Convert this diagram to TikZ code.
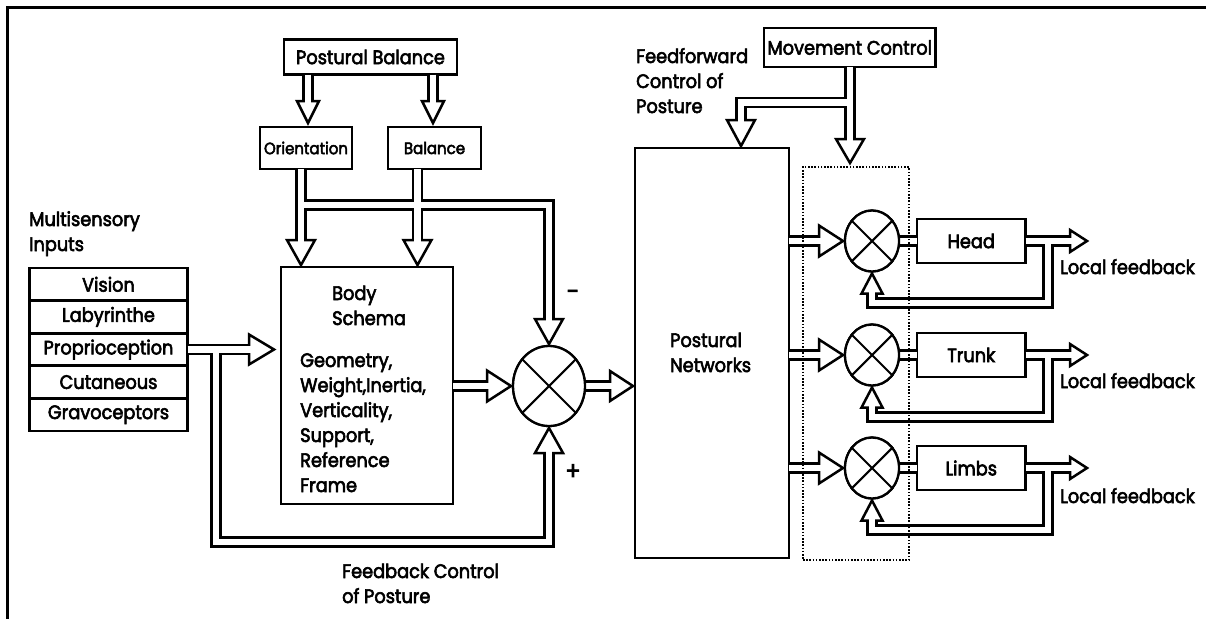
\documentclass[tikz,border=0pt]{standalone}
\usepackage{fontspec}
\setmainfont{Poppins}[FakeStretch=0.91,FakeBold=3]
\usetikzlibrary{calc,shapes.geometric}
\newcommand\fA{\fontsize{19.5}{25}\selectfont}
\newcommand\fB{\fontsize{16.5}{20}\selectfont}
\newcommand\fC{\fontsize{25}{25}\selectfont}
\newcommand\ahd[4]{\begin{scope}[shift={(#1)},rotate=#2]\draw[arrowhd] (0,0) -- (-#3,#4/2) -- (-#3,-#4/2) -- cycle;\end{scope}}
\newcommand\pipenet[1]{%
  \draw[#1] ($(pb.south -| tOri)+(0,-1.3)$) -- ($(tOri)+(0,-19)$);
  \draw[#1] ($(pb.south -| tBal)+(0,-1.3)$) -- ($(tBal)+(0,-19)$);
  \draw[#1] ($(ori.south -| tBO)+(0,-1.3)$) -- ($(tBO)+(0,-22)$);
  \draw[#1] ($(bal.south -| tBB)+(0,-1.3)$) -- ($(tBB)+(0,-22)$);
  \draw[#1] (chan) -- (chan -| tST) -- ($(tST)+(0,-22)$);
  \draw[#1] ($(prop.east)+(-1.3,0)$) -- ($(tProp)+(-22,0)$);
  \draw[#1] (fbk) -- (fbk |- fbb) -- (fbb -| tSB) -- ($(tSB)+(0,22)$);
  \draw[#1] ($(body.east |- tSI)+(-1.3,0)$) -- ($(tSI)+(-21,0)$);
  \draw[#1] (sum.center) -- ($(tPN)+(-20,0)$);
  \draw[#1] ($(mc.south -| tM2)+(0,-1.3)$) -- ($(tM2)+(0,-21)$);
  \draw[#1] (mcb) -- (mcb -| tM1) -- ($(tM1)+(0,-23)$);
  \foreach \r in {H,T,L}{
    \draw[#1] ($(pn.east |- tI\r)+(-1.3,0)$) -- ($(tI\r)+(-21,0)$);
    \draw[#1] (j\r.center) -- ($(b\r.west)+(1.3,0)$);
    \draw[#1] ($(b\r.east)+(-1.3,0)$) -- ($(tO\r)+(-14,0)$);
    \draw[#1] (fb\r) -- (fb\r |- lp\r) -- (lp\r -| tF\r) -- ($(tF\r)+(0,17)$);
  }%
}
\begin{document}
\begin{tikzpicture}[x=1pt,y=-1pt,line join=miter,
  box/.style={draw,line width=2.8pt,inner sep=0pt,font=\fA},
  sbox/.style={draw,line width=2.8pt,inner sep=0pt,font=\fB},
  lbl/.style={anchor=base west,align=left,inner sep=0pt,font=\fA},
  arrowhd/.style={draw,fill=white,line width=2.5pt,line join=miter},
  pipeout/.style={line width=11.5pt,black},
  pipein/.style={line width=6.5pt,white},
  junc/.style={draw,fill=white,ellipse,line width=2.3pt,inner sep=0pt},
  crs/.style={line width=2.1pt}]
\useasboundingbox (0,0) rectangle (1206,619);
% frame
\coordinate (fr) at (7,7);
\draw[line width=3pt] (1206,7) -- (fr) -- (7,619);
% boxes
\node[box,minimum width=173pt,minimum height=35pt] (pb) at (370.5,57) {Postural Balance};
\node[sbox,minimum width=92pt,minimum height=42pt] (ori) at (306,148) {Orientation};
\node[sbox,minimum width=93pt,minimum height=42pt] (bal) at (434.5,148) {Balance};
\node[box,minimum width=172pt,minimum height=237pt] (body) at (367,385.5) {};
\node[box,minimum width=158pt,minimum height=32.6pt] (vis) at (108.5,284.3) {Vision};
\node[box,minimum width=158pt,minimum height=32.6pt] (lab) at (108.5,316.9) {Labyrinthe};
\node[box,minimum width=158pt,minimum height=32.6pt] (prop) at (108.5,349.5) {Proprioception};
\node[box,minimum width=158pt,minimum height=32.6pt] (cut) at (108.5,382.1) {Cutaneous};
\node[box,minimum width=158pt,minimum height=32.6pt] (grav) at (108.5,414.7) {Gravoceptors};
\node[box,minimum width=154pt,minimum height=410pt] (pn) at (712,353) {};
\node[box,minimum width=171.5pt,minimum height=39pt] (mc) at (849.75,47.5) {Movement Control};
\node[box,minimum width=108.5pt,minimum height=44pt] (bH) at (971.25,241) {Head};
\node[box,minimum width=108.5pt,minimum height=44pt] (bT) at (971.25,355) {Trunk};
\node[box,minimum width=108.5pt,minimum height=44pt] (bL) at (971.25,468) {Limbs};
% arrow tips and bends
\coordinate (tOri) at (308,123);
\coordinate (tBal) at (433,123);
\coordinate (tBO) at (301,265);
\coordinate (tBB) at (417.5,265);
\coordinate (chan) at (301,205);
\coordinate (tST) at (549,344);
\coordinate (tSB) at (549,428);
\coordinate (tProp) at (274,349.5);
\coordinate (fbk) at (216,349.5);
\coordinate (fbb) at (216,542);
\coordinate (tSI) at (511,386);
\coordinate (tPN) at (633,386);
\coordinate (tM1) at (741,146);
\coordinate (tM2) at (850,163);
\coordinate (mcb) at (850,102.5);
\node[junc,minimum width=72pt,minimum height=80pt] (sum) at (549,386) {};
\foreach \r/\y in {H/241,T/355,L/468}{
  \coordinate (tI\r) at (843,\y);
  \coordinate (tO\r) at (1087,\y);
  \coordinate (tF\r) at (872,\y+32.5);
  \coordinate (fb\r) at (1048,\y);
  \coordinate (lp\r) at (1048,\y+62);
  \node[junc,minimum width=54pt,minimum height=61pt] (j\r) at (872,\y) {};
}
% pipes: outer pass
\pipenet{pipeout}
% arrow heads
\ahd{tOri}{-90}{22}{22}
\ahd{tBal}{-90}{22}{22}
\ahd{tBO}{-90}{25}{28}
\ahd{tBB}{-90}{25}{28}
\ahd{tST}{-90}{25}{28}
\ahd{tSB}{90}{25}{28}
\ahd{tProp}{0}{25}{30}
\ahd{tSI}{0}{24}{31}
\ahd{tPN}{0}{23}{30}
\ahd{tM1}{-90}{26}{28}
\ahd{tM2}{-90}{24}{28}
\foreach \r in {H,T,L}{
  \ahd{tI\r}{0}{24}{31}
  \ahd{tO\r}{0}{17}{22}
  \ahd{tF\r}{90}{20}{21}
}
% pipes: inner pass
\pipenet{pipein}
% junctions on top
\node[junc,minimum width=72pt,minimum height=80pt] (sum) at (549,386) {};
\draw[crs] (sum.45) -- (sum.225) (sum.135) -- (sum.315);
\foreach \r/\y in {H/241,T/355,L/468}{
  \node[junc,minimum width=54pt,minimum height=61pt] (j\r) at (872,\y) {};
  \draw[crs] (j\r.45) -- (j\r.225) (j\r.135) -- (j\r.315);
}
% dotted box
\node[draw,line width=1.3pt,dash pattern=on 1.6pt off 1.6pt,minimum width=106pt,minimum height=393pt,inner sep=0pt] (dbox) at (856,363.5) {};
% texts (anchor = baseline of the last line)
\node[lbl] (msi) at (29,251) {Multisensory\\Inputs};
\node[lbl] (bs) at (332,325) {Body\\Schema};
\node[lbl] (bl) at (300,492) {Geometry,\\Weight,Inertia,\\Verticality,\\Support,\\Reference\\Frame};
\node[lbl] (fbc) at (342,603) {Feedback Control\\of Posture};
\node[lbl] (ffc) at (636,113) {Feedforward\\Control of\\Posture};
\node[lbl] (pnt) at (670,372) {Postural\\Networks};
\node[lbl] (lfH) at (1060,274) {Local feedback};
\node[lbl] (lfT) at (1060,388) {Local feedback};
\node[lbl] (lfL) at (1060,503) {Local feedback};
\node[font=\fC,inner sep=0pt] (minus) at (573,295) {-};
\node[font=\fC,inner sep=0pt] (plus) at (573,472) {+};
\end{tikzpicture}
\end{document}
